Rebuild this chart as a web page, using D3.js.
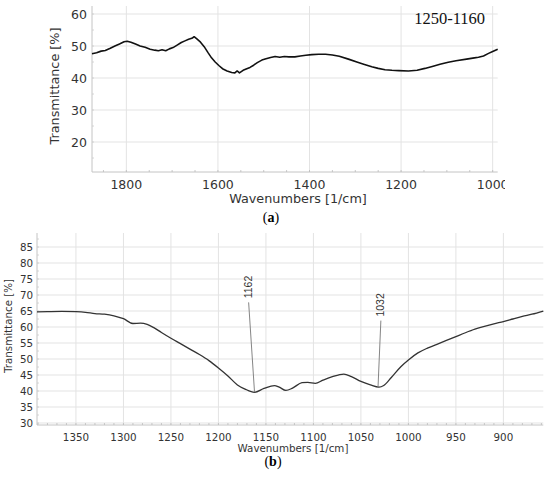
<!DOCTYPE html>
<html><head><meta charset="utf-8">
<script src="https://cdn.jsdelivr.net/npm/d3@7"></script>
<style>
body{margin:0;background:#fff;}
svg{display:block;}
</style></head>
<body>
<svg id="c" width="550" height="479"></svg>
<script>
// ---- Panel (a) data ----
const wnA = [1875,1865,1855,1846,1835,1825,1815,1805,1798,1790,1780,1770,1759,1748,1738,1730,1722,1714,1706,1698,1690,1680,1672,1664,1657,1652,1646,1638,1630,1622,1614,1606,1598,1590,1580,1570,1563,1558,1553,1545,1537,1530,1522,1514,1504,1495,1485,1475,1465,1455,1445,1432,1420,1408,1395,1380,1365,1350,1335,1315,1295,1280,1264,1250,1235,1220,1205,1184,1165,1148,1130,1115,1097,1080,1057,1040,1031,1020,1009,1000,989];
const tA  = [47.6,47.9,48.4,48.6,49.3,50.0,50.6,51.3,51.5,51.2,50.6,50.0,49.6,49.0,48.7,48.5,48.8,48.5,49.1,49.5,50.2,51.1,51.6,52.1,52.4,52.9,52.2,51.2,49.8,48.0,46.3,45.0,43.9,42.9,42.2,41.7,41.6,42.2,41.6,42.4,42.9,43.3,44.0,44.8,45.6,46.0,46.4,46.7,46.5,46.7,46.6,46.6,46.9,47.1,47.3,47.4,47.4,47.2,46.8,45.9,44.9,44.2,43.5,43.0,42.6,42.4,42.3,42.2,42.4,43.0,43.7,44.3,44.9,45.4,45.9,46.3,46.5,46.9,47.7,48.3,49.0];
const xTicksA = [1800,1600,1400,1200,1000];
const yTicksA = [20,30,40,50,60];
const noteA = "1250-1160";

// ---- Panel (b) data ----
const wnB = [1391,1380,1365,1350,1340,1330,1320,1310,1300,1290,1282,1275,1268,1260,1250,1240,1230,1220,1210,1200,1190,1180,1172,1162,1152,1141,1136,1129,1122,1112,1106,1098,1090,1080,1068,1060,1050,1040,1031,1026,1018,1008,1000,990,980,970,960,950,940,930,920,910,900,890,880,870,858];
const tB  = [64.7,64.8,64.9,64.8,64.6,64.2,64.0,63.5,62.6,61.1,61.2,60.8,59.8,58.3,56.5,54.8,53.1,51.4,49.5,47.2,44.7,41.9,40.6,39.6,40.8,41.7,41.2,40.2,40.9,42.6,42.7,42.4,43.4,44.5,45.3,44.5,43.0,41.9,41.2,41.7,44.2,47.6,49.7,51.9,53.4,54.6,55.8,57.0,58.2,59.3,60.2,61.0,61.7,62.5,63.3,64.0,65.0];
const xTicksB = [1350,1300,1250,1200,1150,1100,1050,1000,950,900];
const yTicksB = [30,35,40,45,50,55,60,65,70,75,80,85];
const peakWn   = [1162,1032];
const peakVal  = [39.6,41.2];
const labelWn  = [1168.2,1029];
const labelVal = [67.7,62.0];

const svg = d3.select("#c");
const gridC = "#e3e3e3", axisC = "#c4c4c4", txtC = "#333";
const sans = "DejaVu Sans, Verdana, sans-serif";

function panel(o){
  const g = svg.append("g");
  const x = d3.scaleLinear().domain(o.xd).range([o.l,o.r]);
  const y = d3.scaleLinear().domain(o.yd).range([o.b,o.t]);
  // grid
  g.selectAll(".vg").data(o.xt).join("line")
    .attr("x1",d=>x(d)).attr("x2",d=>x(d)).attr("y1",o.t).attr("y2",o.b)
    .attr("stroke",gridC).attr("stroke-width",1);
  g.selectAll(".hg").data(o.yt).join("line")
    .attr("x1",o.l).attr("x2",o.r).attr("y1",d=>y(d)).attr("y2",d=>y(d))
    .attr("stroke",gridC).attr("stroke-width",1);
  // axes
  g.append("line").attr("x1",o.l).attr("x2",o.l).attr("y1",o.t).attr("y2",o.b).attr("stroke",axisC);
  g.append("line").attr("x1",o.l).attr("x2",o.r).attr("y1",o.b).attr("y2",o.b).attr("stroke",axisC);
  // minor ticks
  const xm = d3.range(Math.ceil(o.xd[1]/o.xms)*o.xms, o.xd[0], o.xms);
  g.selectAll(".xm").data(xm).join("line")
    .attr("x1",d=>x(d)).attr("x2",d=>x(d)).attr("y1",o.b-2).attr("y2",o.b)
    .attr("stroke","#bbb").attr("stroke-width",0.8);
  const ym = d3.range(Math.ceil(o.yd[0]/o.yms)*o.yms, o.yd[1], o.yms);
  g.selectAll(".ym").data(ym).join("line")
    .attr("x1",o.l).attr("x2",o.l+2).attr("y1",d=>y(d)).attr("y2",d=>y(d))
    .attr("stroke","#ccc").attr("stroke-width",0.8);
  // tick labels
  const clipId = "clip"+o.id;
  svg.append("clipPath").attr("id",clipId).append("rect")
    .attr("x",0).attr("y",0).attr("width",o.clipR).attr("height",479);
  g.append("g").attr("clip-path",`url(#${clipId})`)
    .selectAll("text").data(o.xt).join("text")
    .attr("x",d=>x(d)).attr("y",o.b+o.xly).attr("text-anchor","middle")
    .attr("font-family",sans).attr("font-size",o.fs).attr("fill",txtC).text(d=>d);
  g.selectAll(".yl").data(o.yt).join("text")
    .attr("x",o.l-o.ylx).attr("y",d=>y(d)).attr("dy","0.36em").attr("text-anchor","end")
    .attr("font-family",sans).attr("font-size",o.fs).attr("fill",txtC).text(d=>d);
  // axis titles
  g.append("text").attr("x",o.xtx).attr("y",o.xty).attr("text-anchor","middle")
    .attr("font-family",sans).attr("font-size",o.tfs).attr("fill",txtC).text("Wavenumbers [1/cm]");
  g.append("text").attr("transform",`translate(${o.ytx},${o.yty}) rotate(-90)`).attr("text-anchor","middle")
    .attr("font-family",sans).attr("font-size",o.tfs).attr("fill",txtC).text("Transmittance [%]");
  // curve
  const line = d3.line().x(d=>x(d[0])).y(d=>y(d[1])).curve(o.curve);
  g.append("path").datum(d3.zip(o.wn,o.tv)).attr("d",line)
    .attr("fill","none").attr("stroke",o.lc).attr("stroke-width",o.lw).attr("stroke-linejoin","round");
  // caption
  const cap = g.append("text").attr("x",o.capx).attr("y",o.capy).attr("text-anchor","middle")
    .attr("font-family","Liberation Serif, Times New Roman, serif").attr("font-size",14).attr("fill","#000");
  cap.append("tspan").text("(");
  cap.append("tspan").attr("font-weight","bold").text(o.cap);
  cap.append("tspan").text(")");
  return {g,x,y};
}

const A = panel({id:"a",xd:[1875,989],yd:[10.625,62.5],l:92,r:497.7,t:6,b:172,
  xt:xTicksA,yt:yTicksA,xms:50,yms:5,fs:12.5,tfs:12.8,xly:17,ylx:5,clipR:505,
  xtx:298,xty:203,ytx:59,yty:86,wn:wnA,tv:tA,lc:"#111",lw:1.6,curve:d3.curveLinear,
  cap:"a",capx:271,capy:222});
A.g.append("text").attr("x",A.x(1094)).attr("y",A.y(56.8))
  .attr("font-family","Liberation Serif, Times New Roman, serif").attr("font-size",16.5)
  .attr("fill","#111").attr("text-anchor","middle").text(noteA);

const B = panel({id:"b",xd:[1391,858],yd:[29.375,89.375],l:37,r:543.3,t:233,b:425,
  xt:xTicksB,yt:yTicksB,xms:10,yms:2.5,fs:10.3,tfs:10.3,xly:16,ylx:4,clipR:550,
  xtx:293,xty:452,ytx:12,yty:326,wn:wnB,tv:tB,lc:"#333",lw:1.3,curve:d3.curveMonotoneX,
  cap:"b",capx:273,capy:466});
// peak annotations
peakWn.forEach((w,i)=>{
  B.g.append("line").attr("x1",B.x(w)).attr("y1",B.y(peakVal[i]))
    .attr("x2",B.x(labelWn[i])).attr("y2",B.y(labelVal[i]))
    .attr("stroke","#777").attr("stroke-width",0.9);
  B.g.append("text")
    .attr("transform",`translate(${B.x(labelWn[i])+3.5},${B.y(labelVal[i])-4}) rotate(-90)`)
    .attr("font-family","Liberation Sans, Arial, sans-serif").attr("font-size",10.5)
    .attr("fill","#333").attr("text-anchor","start").text(w);
});
</script>
</body></html>
